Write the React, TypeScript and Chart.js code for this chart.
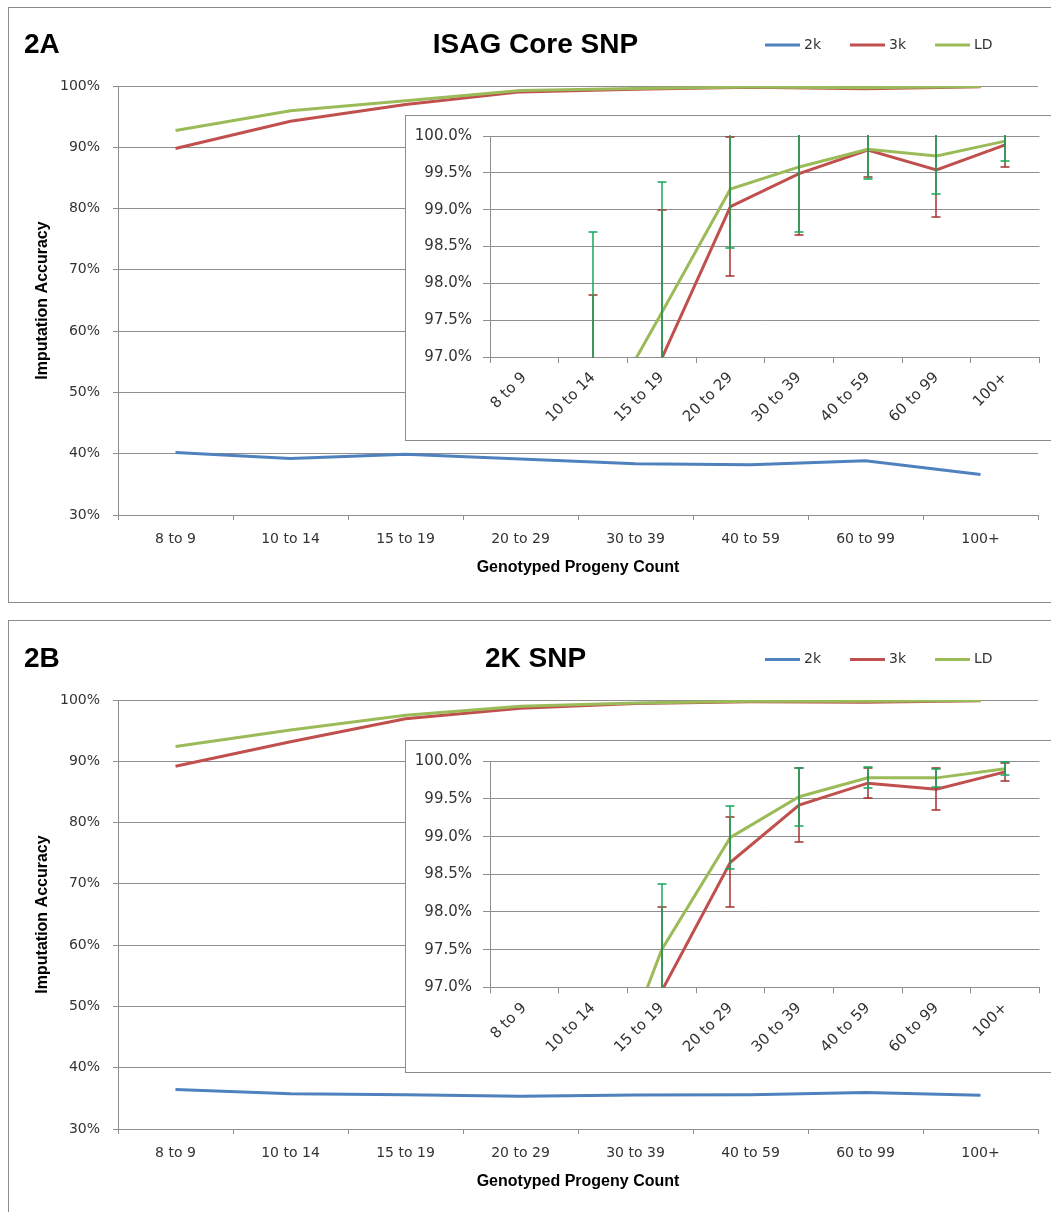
import React, { useEffect, useRef } from 'react';
import { Chart, registerables } from 'chart.js';

Chart.register(...registerables);

// ---------------- data ----------------
const categories = ['8 to 9', '10 to 14', '15 to 19', '20 to 29', '30 to 39', '40 to 59', '60 to 99', '100+'];
const seriesNames = ['2k', '3k', 'LD'];
const seriesColors = ['#4F81BD', '#C0504D', '#9BBB59'];
const errorColors = ['#4F81BD', '#A3322E', '#14A85A'];

// Panel 2A - ISAG Core SNP
const isag2k = [40.2, 39.2, 39.9, 39.15, 38.35, 38.2, 38.85, 36.6];
const isag3k = [89.8, 94.25, 96.98, 99.04, 99.49, 99.81, 99.54, 99.88];
const isagLD = [92.75, 95.95, 97.6, 99.28, 99.58, 99.82, 99.73, 99.93];
const isag3kErr = [4.0, 3.59, 2.02, 0.94, 0.83, 0.36, 0.64, 0.3];
const isagLDErr = [3.5, 2.75, 1.78, 0.8, 0.88, 0.4, 0.52, 0.27];

// Panel 2B - 2K SNP
const snp2k2k = [36.45, 35.75, 35.6, 35.35, 35.55, 35.6, 35.95, 35.5];
const snp2k3k = [89.2, 93.2, 96.95, 98.66, 99.42, 99.71, 99.63, 99.86];
const snp2kLD = [92.4, 95.1, 97.5, 98.99, 99.53, 99.78, 99.78, 99.9];
const snp2k3kErr = [4.0, 3.0, 1.11, 0.6, 0.49, 0.2, 0.28, 0.12];
const snp2kLDErr = [3.5, 1.5, 0.87, 0.42, 0.385, 0.14, 0.12, 0.085];

// axis ranges
const MAIN_Y_MIN = 30;
const MAIN_Y_MAX = 100;
const MAIN_Y_STEP = 10;
const INSET_Y_MIN = 97;
const INSET_Y_MAX = 100;
const INSET_Y_STEP = 0.5;

const xAxisTitle = 'Genotyped Progeny Count';
const yAxisTitle = 'Imputation Accuracy';

// ---------------- styling / layout ----------------
const TICK_FONT = 'DejaVu Sans';
const TITLE_FONT = 'Liberation Sans';
const GRID = '#8f8f8f';
const FRAME = '#8c8c8c';
const TICK_COLOR = '#333333';

const MAIN_LEFT = 9;
const MAIN_W = 1060;
const MAIN_H = 593;
const MAIN_AREA_LEFT = 109; // rel to canvas
const MAIN_AREA_RIGHT = 1029;
const MAIN_PAD_LEFT = 24;

const INSET_LEFT = 405;
const INSET_W = 680;
const INSET_AREA_LEFT = 84;
const INSET_AREA_RIGHT = 633.5;

type Panel = {
  tag: string;
  title: string;
  values: number[][];
  errors: (number[] | null)[];
  frameTop: number;
  frameHeight: number;
  mainTop: number;
  titlePadTop: number;
  titlePadBottom: number;
  mainPadBottom: number;
  titleCenter: number;
  insetTop: number;
  insetFrameH: number;
  insetCanvasH: number;
  insetPadTop: number;
  insetAxisH: number;
};

const panels: Panel[] = [
  {
    tag: '2A',
    title: 'ISAG Core SNP',
    values: [isag2k, isag3k, isagLD],
    errors: [null, isag3kErr, isagLDErr],
    frameTop: 7,
    frameHeight: 596,
    mainTop: 8,
    titlePadTop: 20.2,
    titlePadBottom: 24.2,
    mainPadBottom: 20,
    titleCenter: 37,
    insetTop: 115,
    insetFrameH: 326,
    insetCanvasH: 323,
    insetPadTop: 19.3,
    insetAxisH: 82,
  },
  {
    tag: '2B',
    title: '2K SNP',
    values: [snp2k2k, snp2k3k, snp2kLD],
    errors: [null, snp2k3kErr, snp2kLDErr],
    frameTop: 620,
    frameHeight: 700,
    mainTop: 621,
    titlePadTop: 21.7,
    titlePadBottom: 23.7,
    mainPadBottom: 19,
    titleCenter: 38.5,
    insetTop: 740,
    insetFrameH: 333,
    insetCanvasH: 330,
    insetPadTop: 20.3,
    insetAxisH: 83.7,
  },
];

function makeDatasets(values: number[][]) {
  return values.map((d, i) => ({
    label: seriesNames[i],
    data: d,
    borderColor: seriesColors[i],
    backgroundColor: seriesColors[i],
    borderWidth: 3,
    pointRadius: 0,
    pointHoverRadius: 0,
    tension: 0,
    fill: false,
    order: values.length - i,
  }));
}

function errorBarPlugin(errors: (number[] | null)[]) {
  return {
    id: 'errorBars',
    afterDatasetsDraw(chart: any) {
      const { ctx, chartArea: a, scales } = chart;
      const xs = scales.x;
      const ys = scales.y;
      ctx.save();
      ctx.beginPath();
      ctx.rect(a.left, a.top - 1, a.right - a.left, a.bottom - a.top + 1.5);
      ctx.clip();
      chart.data.datasets.forEach((ds: any, di: number) => {
        const err = errors[di];
        if (!err) return;
        ctx.strokeStyle = errorColors[di];
        ctx.lineWidth = 1.5;
        ds.data.forEach((v: number, i: number) => {
          const e = err[i];
          if (e == null) return;
          const x = Math.round(xs.getPixelForValue(i));
          const yT = Math.round(ys.getPixelForValue(v + e));
          const yB = Math.round(ys.getPixelForValue(v - e));
          ctx.beginPath();
          ctx.moveTo(x, yT);
          ctx.lineTo(x, yB);
          ctx.moveTo(x - 4.5, yT);
          ctx.lineTo(x + 4.5, yT);
          ctx.moveTo(x - 4.5, yB);
          ctx.lineTo(x + 4.5, yB);
          ctx.stroke();
        });
      });
      ctx.restore();
    },
  };
}

function decorPlugin(tag: string, centerY: number) {
  return {
    id: 'panelDecor',
    afterDraw(chart: any) {
      const ctx = chart.ctx;
      ctx.save();
      ctx.textBaseline = 'middle';
      ctx.textAlign = 'left';
      ctx.fillStyle = '#000';
      ctx.font = `bold 28px "${TITLE_FONT}"`;
      ctx.fillText(tag, 24 - MAIN_LEFT, centerY);
      ctx.font = `14px "${TICK_FONT}"`;
      let x = 765 - MAIN_LEFT;
      chart.data.datasets.forEach((ds: any) => {
        ctx.strokeStyle = ds.borderColor;
        ctx.lineWidth = 3;
        ctx.beginPath();
        ctx.moveTo(x, centerY);
        ctx.lineTo(x + 35, centerY);
        ctx.stroke();
        x += 39;
        ctx.fillStyle = TICK_COLOR;
        ctx.fillText(ds.label, x, centerY);
        x += ctx.measureText(ds.label).width + 29;
      });
      ctx.restore();
    },
  };
}

function MainChart({ p }: { p: Panel }) {
  const ref = useRef<HTMLCanvasElement>(null);
  useEffect(() => {
    const chart = new Chart(ref.current as HTMLCanvasElement, {
      type: 'line',
      data: { labels: categories, datasets: makeDatasets(p.values) as any },
      options: {
        animation: false,
        responsive: false,
        devicePixelRatio: 1,
        events: [],
        layout: {
          padding: { left: MAIN_PAD_LEFT, right: MAIN_W - MAIN_AREA_RIGHT, top: 0, bottom: p.mainPadBottom },
        },
        plugins: {
          legend: { display: false },
          tooltip: { enabled: false },
          title: {
            display: true,
            text: p.title,
            color: '#000',
            font: { family: TITLE_FONT, size: 28, weight: 'bold' },
            padding: { top: p.titlePadTop, bottom: p.titlePadBottom },
          },
        },
        scales: {
          x: {
            type: 'category',
            offset: true,
            grid: { offset: true, drawOnChartArea: false, drawTicks: true, tickLength: 5, color: GRID },
            border: { display: true, color: GRID, width: 1 },
            ticks: {
              autoSkip: false,
              maxRotation: 0,
              minRotation: 0,
              padding: 11,
              color: TICK_COLOR,
              font: { family: TICK_FONT, size: 14 },
            },
            title: {
              display: true,
              text: xAxisTitle,
              color: '#000',
              font: { family: TITLE_FONT, size: 16, weight: 'bold' },
              padding: { top: 0, bottom: 3.4 },
            },
            afterFit: (s: any) => {
              s.height = 66;
            },
          },
          y: {
            min: MAIN_Y_MIN,
            max: MAIN_Y_MAX,
            grid: { color: GRID, lineWidth: 1, drawTicks: true, tickLength: 5 },
            border: { display: true, color: GRID, width: 1 },
            ticks: {
              stepSize: MAIN_Y_STEP,
              padding: 13,
              color: TICK_COLOR,
              font: { family: TICK_FONT, size: 14 },
              callback: (v: any) => `${v}%`,
            },
            title: {
              display: true,
              text: yAxisTitle,
              color: '#000',
              font: { family: TITLE_FONT, size: 16, weight: 'bold' },
              padding: { top: 0, bottom: 0 },
            },
            afterFit: (s: any) => {
              s.width = MAIN_AREA_LEFT - MAIN_PAD_LEFT;
            },
          },
        },
      } as any,
      plugins: [decorPlugin(p.tag, p.titleCenter)],
    });
    return () => chart.destroy();
  }, []);
  return (
    <canvas
      ref={ref}
      width={MAIN_W}
      height={MAIN_H}
      style={{ position: 'absolute', left: MAIN_LEFT, top: p.mainTop, width: MAIN_W, height: MAIN_H }}
    />
  );
}

function InsetChart({ p }: { p: Panel }) {
  const ref = useRef<HTMLCanvasElement>(null);
  useEffect(() => {
    const chart = new Chart(ref.current as HTMLCanvasElement, {
      type: 'line',
      data: { labels: categories, datasets: makeDatasets(p.values) as any },
      options: {
        animation: false,
        responsive: false,
        devicePixelRatio: 1,
        events: [],
        layout: {
          padding: { left: 0, right: INSET_W - INSET_AREA_RIGHT, top: p.insetPadTop, bottom: 0 },
        },
        plugins: {
          legend: { display: false },
          tooltip: { enabled: false },
          title: { display: false },
        },
        scales: {
          x: {
            type: 'category',
            offset: true,
            grid: { offset: true, drawOnChartArea: false, drawTicks: true, tickLength: 6, color: GRID },
            border: { display: true, color: GRID, width: 1 },
            ticks: {
              autoSkip: false,
              maxRotation: 45,
              minRotation: 45,
              padding: 6,
              color: TICK_COLOR,
              font: { family: TICK_FONT, size: 15 },
            },
            afterFit: (s: any) => {
              s.height = p.insetAxisH;
            },
          },
          y: {
            min: INSET_Y_MIN,
            max: INSET_Y_MAX,
            grid: { color: GRID, lineWidth: 1, drawTicks: true, tickLength: 7 },
            border: { display: true, color: GRID, width: 1 },
            ticks: {
              stepSize: INSET_Y_STEP,
              padding: 11,
              color: TICK_COLOR,
              font: { family: TICK_FONT, size: 15 },
              callback: (v: any) => `${Number(v).toFixed(1)}%`,
            },
            afterFit: (s: any) => {
              s.width = INSET_AREA_LEFT;
            },
          },
        },
      } as any,
      plugins: [errorBarPlugin(p.errors)],
    });
    return () => chart.destroy();
  }, []);
  return (
    <div
      style={{
        position: 'absolute',
        left: INSET_LEFT,
        top: p.insetTop,
        width: 720,
        height: p.insetFrameH,
        boxSizing: 'border-box',
        border: `1px solid ${FRAME}`,
        background: '#fff',
      }}
    >
      <canvas
        ref={ref}
        width={INSET_W}
        height={p.insetCanvasH}
        style={{ position: 'absolute', left: 0, top: 0, width: INSET_W, height: p.insetCanvasH }}
      />
    </div>
  );
}

export default function App() {
  return (
    <div
      style={{
        position: 'absolute',
        left: 0,
        top: 0,
        width: 1051,
        height: 1212,
        overflow: 'hidden',
        background: '#fff',
      }}
    >
      {panels.map((p) => (
        <React.Fragment key={p.tag}>
          <div
            style={{
              position: 'absolute',
              left: 8,
              top: p.frameTop,
              width: 1100,
              height: p.frameHeight,
              boxSizing: 'border-box',
              border: `1px solid ${FRAME}`,
            }}
          />
          <MainChart p={p} />
          <InsetChart p={p} />
        </React.Fragment>
      ))}
    </div>
  );
}
